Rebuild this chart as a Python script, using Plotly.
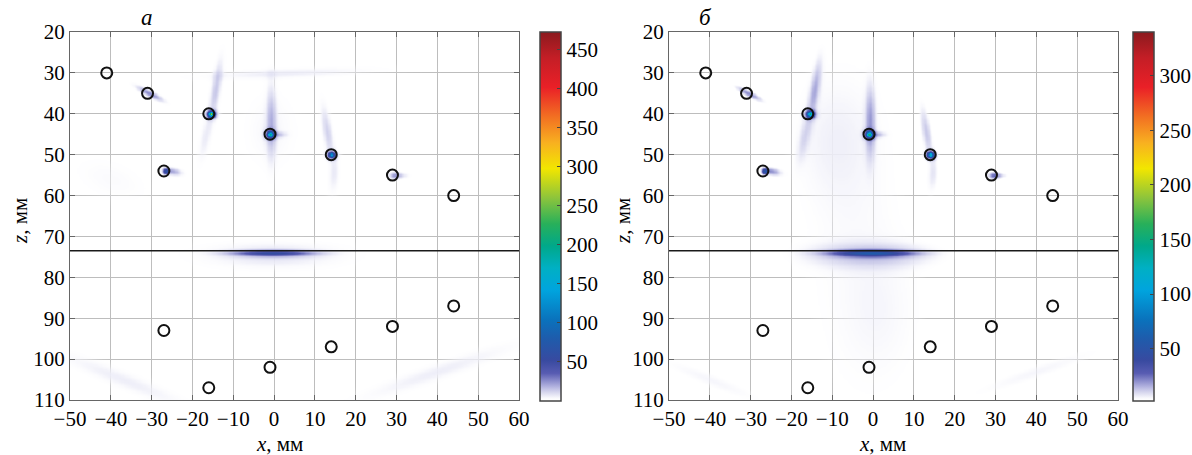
import numpy as np
import plotly.graph_objects as go

# ---------------- data ----------------
x_ticks = list(range(-50, 61, 10))
z_ticks = list(range(20, 111, 10))
cbar_a_ticks = [50, 100, 150, 200, 250, 300, 350, 400, 450]
cbar_b_ticks = [50, 100, 150, 200, 250, 300]
cbar_a_range = [0, 473]
cbar_b_range = [2, 340]

# reflector (side-drilled hole) positions, mm
refl_x = [-41, -31, -16, -1, 14, 29, 44, -27, -27, -16, -1, 14, 29, 44]
refl_z = [30, 35, 40, 45, 50, 55, 60, 54, 93, 107, 102, 97, 92, 87]

# interface line depth, mm
boundary_x = [-50, 60]
boundary_z = [73.5, 73.5]

# image spots: centre x, centre z, amplitude, sigma along, sigma across, angle (deg)
a_spot_x = [-30.5, -15.5, -15.5, -14.4, -17.0, -1.0, -1.0, -0.8, 0.8, 14.0, 14.0, 13.0, 14.5, 29.5, 30.5,
            -26.6, -25.0, -0.5, -0.5, 3.0, -37.0, 40.0, -1.0, -40.0]
a_spot_z = [35.0, 40.0, 40.0, 34.0, 46.0, 45.0, 45.0, 42.0, 45.0, 50.0, 50.0, 44.5, 55.0, 55.0, 55.0,
            54.0, 54.0, 74.0, 74.5, 30.0, 105.0, 103.0, 44.0, 56.0]
a_spot_amp = [26, 220, 45, 14, 6, 150, 35, 16, 12, 100, 30, 12, 6, 16, 10,
              55, 20, 48, 9, 6, 6, 6, 4, 3]
a_spot_su = [2.3, 0.4, 0.9, 5.0, 4.0, 0.4, 0.9, 6.0, 1.4, 0.4, 0.9, 4.5, 3.0, 0.9, 1.5,
             0.5, 1.5, 6.5, 11.0, 14.0, 12.0, 14.0, 6.0, 6.0]
a_spot_sv = [0.5, 0.4, 0.7, 0.8, 0.9, 0.4, 0.8, 0.8, 0.5, 0.4, 0.7, 0.8, 0.9, 0.6, 0.5,
             0.5, 0.6, 0.5, 2.0, 0.8, 1.4, 1.4, 4.0, 3.0]
a_spot_ang = [28, 0, 0, -81, 101, 0, 0, 90, 0, 0, 0, 81, 95, 0, 0,
              0, 10, 0, 0, -2, 22, -19, 90, 20]

b_spot_x = [-30.5, -15.5, -15.5, -14.4, -17.0, -1.0, -1.0, -0.8, 0.8, 14.0, 14.0, 13.0, 14.5, 29.5, 30.5,
            -26.6, -25.0, -0.5, -0.5, -40.0, 40.0, -5.0, 3.0, -10.0]
b_spot_z = [35.0, 40.0, 40.0, 34.0, 46.0, 45.0, 45.0, 42.0, 45.0, 50.0, 50.0, 44.5, 55.0, 55.0, 55.0,
            54.0, 54.0, 74.0, 74.5, 105.0, 103.0, 70.0, 90.0, 45.0]
b_spot_amp = [20, 110, 35, 13, 6, 120, 30, 15, 10, 95, 28, 11, 6, 18, 10,
              45, 18, 44, 10, 5, 5, 3.5, 2.5, 3.5]
b_spot_su = [2.3, 0.4, 0.9, 5.0, 4.0, 0.4, 0.9, 6.0, 1.4, 0.4, 0.9, 4.5, 3.0, 0.9, 1.5,
             0.5, 1.5, 6.5, 11.0, 11.0, 14.0, 35.0, 14.0, 12.0]
b_spot_sv = [0.5, 0.4, 0.7, 0.8, 0.9, 0.4, 0.8, 0.8, 0.5, 0.4, 0.7, 0.8, 0.9, 0.6, 0.5,
             0.5, 0.6, 0.55, 2.0, 1.4, 1.4, 12.0, 8.0, 8.0]
b_spot_ang = [28, 0, 0, -81, 101, 0, 0, 90, 0, 0, 0, 81, 95, 0, 0,
              0, 10, 0, 0, 22, -19, 90, 90, 90]

# ---------------- image reconstruction from listed spots ----------------
gx = np.arange(-50, 60.01, 0.3)
gz = np.arange(20, 110.01, 0.3)
GX, GZ = np.meshgrid(gx, gz)


def build(sx, sz, amp, su, sv, ang):
    img = np.zeros_like(GX)
    for x0, z0, a, u_s, v_s, t in zip(sx, sz, amp, su, sv, ang):
        th = np.deg2rad(t)
        dx, dz = GX - x0, GZ - z0
        u = dx * np.cos(th) + dz * np.sin(th)
        v = -dx * np.sin(th) + dz * np.cos(th)
        img += a * np.exp(-(u ** 2 / (2 * u_s ** 2) + v ** 2 / (2 * v_s ** 2)))
    return np.round(img, 1)


img_a = build(a_spot_x, a_spot_z, a_spot_amp, a_spot_su, a_spot_sv, a_spot_ang)
img_b = build(b_spot_x, b_spot_z, b_spot_amp, b_spot_su, b_spot_sv, b_spot_ang)

cscale = [
    [0.0, 'rgba(255,255,255,0)'], [0.012, 'rgba(238,238,248,0.9)'], [0.04, 'rgb(176,176,222)'],
    [0.075, 'rgb(88,92,178)'], [0.11, 'rgb(56,74,160)'], [0.17, 'rgb(30,92,172)'],
    [0.22, 'rgb(10,114,188)'], [0.3, 'rgb(0,164,222)'], [0.36, 'rgb(0,176,196)'],
    [0.42, 'rgb(0,168,138)'], [0.48, 'rgb(40,176,90)'], [0.55, 'rgb(140,196,60)'],
    [0.63, 'rgb(242,230,0)'], [0.70, 'rgb(248,176,32)'], [0.77, 'rgb(242,112,34)'],
    [0.85, 'rgb(234,32,39)'], [0.93, 'rgb(196,30,38)'], [1.0, 'rgb(139,26,30)'],
]

FONT = "Liberation Serif"
W, H = 1192, 455
ML, MR, MT, MB = 10, 40, 20, 20
PW, PH = W - ML - MR, H - MT - MB


def px_x(p):
    return (p - ML) / PW


def px_y(p):
    return 1 - (p - MT) / PH


dom_y = [px_y(400), px_y(32)]
dom_xa = [px_x(70), px_x(519)]
dom_xb = [px_x(669), px_x(1118)]

fig = go.Figure()

for img, xa, ya, cr, ct, cbx in [
    (img_a, 'x', 'y', cbar_a_range, cbar_a_ticks, px_x(540)),
    (img_b, 'x2', 'y2', cbar_b_range, cbar_b_ticks, px_x(1133)),
]:
    fig.add_trace(go.Heatmap(
        x=gx, y=gz, z=img, xaxis=xa, yaxis=ya, colorscale=cscale,
        zmin=cr[0], zmax=cr[1], zsmooth='best', hoverinfo='skip',
        colorbar=dict(
            x=cbx, xanchor='left', y=px_y(32), yanchor='top',
            len=(401 - 32) / PH, lenmode='fraction', thickness=21,
            outlinewidth=1.5, outlinecolor='#444', tickvals=ct,
            ticks='inside', ticklen=4, tickcolor='#444',
            tickfont=dict(family=FONT, size=21, color='black'), xpad=0, ypad=0,
        ),
    ))
    fig.add_trace(go.Scatter(
        x=boundary_x, y=boundary_z, xaxis=xa, yaxis=ya, mode='lines',
        line=dict(color='#1a1a1a', width=1.5), showlegend=False, hoverinfo='skip'))
    fig.add_trace(go.Scatter(
        x=refl_x, y=refl_z, xaxis=xa, yaxis=ya, mode='markers',
        marker=dict(symbol='circle-open', size=11, line=dict(width=2, color='#111'), color='#111'),
        showlegend=False, hoverinfo='skip'))

axis_common = dict(
    automargin=False,
    showgrid=True, gridcolor='#bdbdbd', gridwidth=1, zeroline=False,
    showline=True, linecolor='#666', linewidth=1, mirror='all',
    ticks='inside', ticklen=5, tickcolor='#666',
    tickfont=dict(family=FONT, size=21, color='black'),
)


def label(text, xp, yp, size=21, angle=0):
    return dict(text=text, x=px_x(xp), y=px_y(yp), xref='paper', yref='paper',
                xanchor='center', yanchor='middle', textangle=angle,
                showarrow=False, font=dict(family=FONT, size=size, color='black'))


fig.update_layout(
    width=W, height=H, margin=dict(l=ML, r=MR, t=MT, b=MB, autoexpand=False),
    paper_bgcolor='white', plot_bgcolor='white', showlegend=False,
    xaxis=dict(domain=dom_xa, range=[-50, 60], tickvals=x_ticks, anchor='y', **axis_common),
    yaxis=dict(domain=dom_y, range=[110, 20], tickvals=z_ticks, anchor='x', **axis_common),
    xaxis2=dict(domain=dom_xb, range=[-50, 60], tickvals=x_ticks, anchor='y2', **axis_common),
    yaxis2=dict(domain=dom_y, range=[110, 20], tickvals=z_ticks, anchor='x2', **axis_common),
    annotations=[
        label('<i>а</i>', 147, 17, 23),
        label('<i>б</i>', 705, 17, 23),
        label('<i>x</i>, мм', 279, 444),
        label('<i>x</i>, мм', 882, 444),
        label('<i>z</i>, мм', 20, 221, angle=-90),
        label('<i>z</i>, мм', 623, 221, angle=-90),
    ],
)

fig.write_html(
    "out.html",
    config={'displayModeBar': False},
    post_script="document.body.style.margin='0px';document.body.style.overflow='hidden';",
)
